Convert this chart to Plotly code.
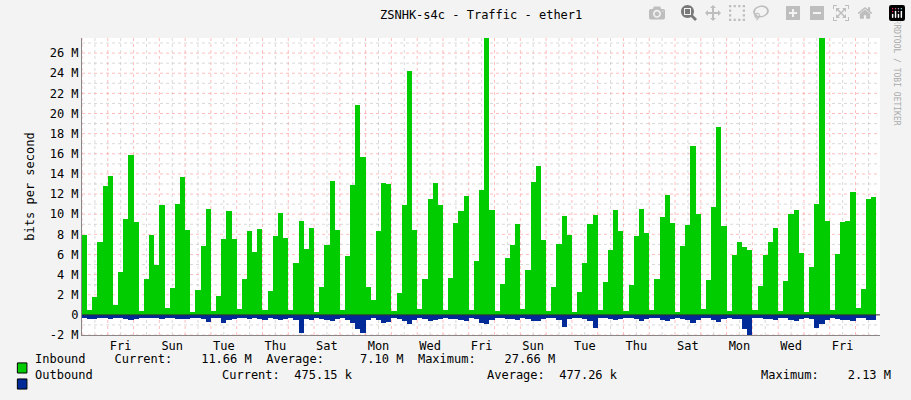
import plotly.graph_objects as go

inbound = [7.9,0.5,1.8,7.2,12.8,13.8,1.0,4.3,9.5,15.9,9.2,0.4,3.6,7.9,5.0,10.9,0.7,2.7,11.0,13.7,
8.4,0.3,2.5,6.8,10.5,0.4,1.9,7.5,10.3,7.5,0.6,3.6,8.3,6.2,8.5,0.5,2.4,7.8,10.1,7.6,
0.5,5.2,9.3,6.5,8.6,0.3,2.8,6.9,13.3,8.4,0.5,5.8,12.9,20.8,15.7,2.8,1.5,8.3,13.1,13.0,
0.4,2.2,10.9,24.2,8.4,0.6,3.6,11.5,13.1,10.9,0.5,3.7,9.1,10.3,11.8,0.5,5.4,12.4,27.66,10.4,
0.4,3.1,5.6,6.9,9.0,0.6,4.5,13.2,14.8,7.4,0.4,2.8,7.0,9.8,7.9,0.3,2.3,5.2,9.0,9.9,
0.5,3.3,6.4,10.4,8.3,0.4,3.0,7.8,10.5,8.1,0.5,3.6,9.7,11.9,9.1,0.3,6.8,8.9,16.8,10.0,
0.6,3.5,10.7,18.7,8.8,0.4,5.9,7.2,6.7,6.4,0.5,2.9,5.9,7.2,8.6,0.4,3.4,10.0,10.4,6.1,
0.3,4.8,11.0,27.5,9.3,0.5,6.0,9.2,9.3,12.2,0.7,2.6,11.5,11.66]
outbound = [0.3,0.4,0.4,0.3,0.3,0.4,0.3,0.3,0.4,0.5,0.4,0.3,0.3,0.3,0.3,0.4,0.3,0.3,0.4,0.4,
0.4,0.3,0.3,0.4,0.7,0.3,0.3,0.8,0.5,0.4,0.3,0.3,0.4,0.3,0.4,0.5,0.3,0.4,0.5,0.4,
0.3,0.5,1.8,0.4,0.5,0.3,0.4,0.5,0.6,0.4,0.3,0.5,0.8,1.4,1.8,0.5,0.3,0.5,0.8,0.7,
0.3,0.4,0.6,0.9,0.5,0.3,0.4,0.6,0.5,0.4,0.3,0.4,0.4,0.5,0.6,0.3,0.4,0.8,0.9,0.5,
0.3,0.3,0.4,0.4,0.5,0.3,0.4,0.6,0.6,0.4,0.3,0.3,0.5,1.2,0.4,0.3,0.3,0.4,0.6,1.3,
0.3,0.3,0.4,0.5,0.4,0.3,0.3,0.4,0.6,0.4,0.3,0.3,0.5,0.6,0.4,0.3,0.4,0.5,0.8,0.5,
0.3,0.3,0.5,0.7,0.4,0.3,0.4,0.4,1.4,2.0,0.3,0.3,0.4,0.4,0.5,0.3,0.3,0.5,0.6,0.4,
0.3,0.4,1.3,0.9,0.5,0.3,0.4,0.5,0.5,0.6,0.3,0.3,0.5,0.5]
day_labels = ["Fri","Sun","Tue","Thu","Sat","Mon","Wed","Fri","Sun","Tue","Thu","Sat","Mon","Wed","Fri"]
y_ticks = [-2,0,2,4,6,8,10,12,14,16,18,20,22,24,26]

step = 0.2
xs = [i*step for i in range(len(inbound))]
FONT = "DejaVu Sans Mono"
fig = go.Figure()
fig.add_bar(x=xs, y=inbound, width=step, offset=0, marker_color="#00cc00", marker_line_width=0)
fig.add_bar(x=xs, y=[-v for v in outbound], width=step, offset=0, marker_color="#002a97", marker_line_width=0)

RED = "rgba(255,110,110,0.45)"
GRY = "rgba(170,170,170,0.45)"
shapes = []
for d in range(0, 32):
    shapes.append(dict(type="line", x0=d, x1=d, y0=-2, y1=27.5, xref="x", yref="y",
                       line=dict(color=RED, width=1, dash="dot"), layer="below"))
    shapes.append(dict(type="line", x0=d+0.5, x1=d+0.5, y0=-2, y1=27.5, xref="x", yref="y",
                       line=dict(color=GRY, width=1, dash="dot"), layer="below"))
for v in range(-2, 28):
    col = RED if v % 2 == 0 else GRY
    shapes.append(dict(type="line", x0=0, x1=30.95, y0=v, y1=v, xref="x", yref="y",
                       line=dict(color=col, width=1, dash="dot"), layer="below"))
shapes.append(dict(type="line", x0=0, x1=30.95, y0=0, y1=0, xref="x", yref="y", line=dict(color="#333", width=1)))
shapes += [
    dict(type="rect", xref="paper", yref="paper", x0=-0.081, x1=-0.069, y0=-0.128, y1=-0.094, fillcolor="#00cc00", line=dict(color="#000", width=1)),
    dict(type="rect", xref="paper", yref="paper", x0=-0.081, x1=-0.069, y0=-0.182, y1=-0.148, fillcolor="#002a97", line=dict(color="#000", width=1)),
]

def fmt(v):
    return "0" if v == 0 else f"{v} M"

ann = [
    dict(text="ZSNHK-s4c - Traffic - ether1", x=0.5, y=1.0, xref="paper", yref="paper", yanchor="bottom", yshift=14, showarrow=False, font=dict(size=12)),
    dict(text="RRDTOOL / TOBI OETIKER", textangle=90, x=1.029, y=1.07, xref="paper", yref="paper", yanchor="top", showarrow=False, font=dict(size=8, color="#aaa")),
    dict(text="Inbound    Current:    11.66 M  Average:     7.10 M  Maximum:    27.66 M", x=-0.062, y=-0.111, xref="paper", yref="paper", xanchor="left", showarrow=False, font=dict(size=12)),
    dict(text="Outbound", x=-0.062, y=-0.165, xref="paper", yref="paper", xanchor="left", showarrow=False, font=dict(size=12)),
    dict(text="Current:  475.15 k", x=0.173, y=-0.165, xref="paper", yref="paper", xanchor="left", showarrow=False, font=dict(size=12)),
    dict(text="Average:  477.26 k", x=0.505, y=-0.165, xref="paper", yref="paper", xanchor="left", showarrow=False, font=dict(size=12)),
    dict(text="Maximum:    2.13 M", x=1.016, y=-0.165, xref="paper", yref="paper", xanchor="right", showarrow=False, font=dict(size=12)),
]

fig.update_layout(
    width=911, height=400, margin=dict(l=82, r=31, t=38, b=65),
    paper_bgcolor="#f3f3f3", plot_bgcolor="#ffffff", showlegend=False, barmode="overlay", bargap=0,
    font=dict(family=FONT, size=12, color="#000"),
    shapes=shapes, annotations=ann,
    xaxis=dict(range=[0, 30.95], tickvals=[1.5+2*k for k in range(len(day_labels))], ticktext=day_labels,
               showgrid=False, zeroline=False, showline=True, linecolor="#888", ticks=""),
    yaxis=dict(range=[-2, 27.5], tickvals=y_ticks, ticktext=[fmt(v) for v in y_ticks],
               showgrid=False, zeroline=False, showline=True, linecolor="#888",
               title=dict(text="bits per second", font=dict(size=12), standoff=12)),
)
fig.write_html("out.html", post_script="document.body.style.margin='0';document.body.style.overflow='hidden';")
